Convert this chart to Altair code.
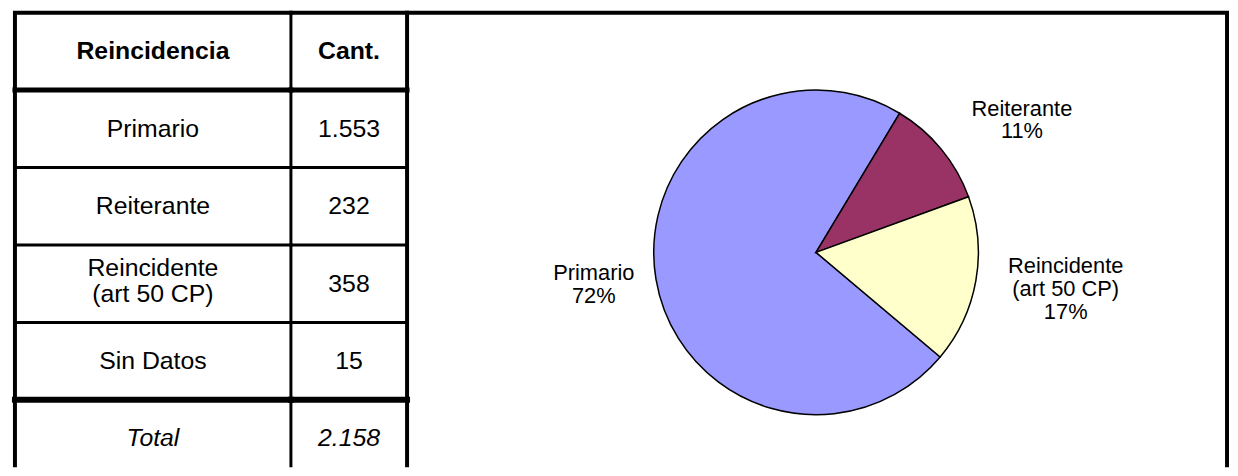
import math
import altair as alt
import pandas as pd

# ---------------- data ----------------
header = ["Reincidencia", "Cant."]
categories = ["Primario", "Reiterante", "Reincidente\n(art 50 CP)", "Sin Datos"]
counts = [1553, 232, 358, 15]
total_label = "Total"

pie_categories = ["Primario", "Reiterante", "Reincidente\n(art 50 CP)"]
pie_counts = [1553, 232, 358]
pie_colors = ["#9999FF", "#993366", "#FFFFCC"]

# ---------------- layout constants ----------------
FONT = "Liberation Sans"
TABLE_FS = 25
TABLE_LH = 26
LABEL_FS = 22
LABEL_LH = 23
COL1_W, COL2_W, PIE_W, H = 278, 117, 826, 458
ROW_H = 78
PIE_CX, PIE_CY, PIE_R = 412, 241.5, 163.5
START = math.radians(130.1)
LABEL_R = 230
LABEL_OFFSETS = {
    "Primario": (3, -5),
    "Reiterante": (30, 13),
    "Reincidente\n(art 50 CP)": (25, -3),
}


def es(n):
    return f"{n:,}".replace(",", ".")


row_keys = [header[0]] + categories + [total_label]
table = pd.DataFrame({
    "key": row_keys,
    "c1": row_keys,
    "c2": [header[1]] + [es(c) for c in counts] + [es(sum(counts))],
    "kind": ["head"] + ["body"] * len(categories) + ["total"],
})

yscale = alt.Scale(type="band", domain=row_keys, range=[0, ROW_H * len(row_keys)],
                   paddingInner=0, paddingOuter=0)

rule_w = (alt.when(alt.datum.key == row_keys[0]).then(alt.value(4))
          .when(alt.datum.key == row_keys[1]).then(alt.value(5))
          .when(alt.datum.key == total_label).then(alt.value(6))
          .otherwise(alt.value(3)))

one = pd.DataFrame({"k": [0]})


def table_col(field, width, left_w):
    base = alt.Chart(table)
    hrules = base.mark_rule(color="black", strokeCap="square").encode(
        y=alt.Y("key:N", scale=yscale, bandPosition=0, axis=None),
        strokeWidth=rule_w,
    )
    vrule = alt.Chart(one).mark_rule(color="black", strokeWidth=left_w).encode(
        x=alt.value(0), y=alt.value(0), y2=alt.value(H)
    )
    layers = [hrules, vrule]
    multi = f"indexof(datum.{field}, '\\n') >= 0"
    specs = [
        (f"datum.kind == 'head'", "bold", "normal", 0),
        (f"datum.kind == 'body' && !({multi})", "normal", "normal", 0),
        (f"datum.kind == 'body' && ({multi})", "normal", "normal", -TABLE_LH / 2 - 3),
        (f"datum.kind == 'total'", "normal", "italic", 0),
    ]
    for test, weight, style, dy in specs:
        layers.append(
            base.transform_filter(test).mark_text(
                font=FONT, fontSize=TABLE_FS, fontWeight=weight, fontStyle=style,
                lineBreak="\n", lineHeight=TABLE_LH, color="black", align="center",
                baseline="middle", dy=dy,
            ).encode(
                y=alt.Y("key:N", scale=yscale, axis=None),
                text=alt.Text(f"{field}:N"),
            )
        )
    return alt.layer(*layers).properties(width=width, height=H)


col1 = table_col("c1", COL1_W, 4)
col2 = table_col("c2", COL2_W, 3)

# ---------------- pie ----------------
pie_df = pd.DataFrame({"cat": pie_categories, "n": pie_counts,
                       "order": list(range(len(pie_categories)))})
theta_scale = alt.Scale(domain=[0, sum(pie_counts)], range=[START, START + 2 * math.pi])

pie_base = (alt.Chart(pie_df)
            .transform_stack(stack="n", groupby=[], as_=["s0", "s1"],
                             sort=[alt.SortField("order", order="ascending")])
            .transform_joinaggregate(tot="sum(n)")
            .transform_calculate(
                mid="(datum.s0 + datum.s1) / 2",
                label="datum.cat + '\\n' + format(datum.n / datum.tot, '.0%')",
            ))

arcs = pie_base.mark_arc(outerRadius=PIE_R, stroke="black", strokeWidth=1.5).encode(
    theta=alt.Theta("s0:Q", scale=theta_scale, stack=False),
    theta2="s1:Q",
    color=alt.Color("cat:N", scale=alt.Scale(domain=pie_categories, range=pie_colors),
                    legend=None),
    x=alt.value(PIE_CX), y=alt.value(PIE_CY),
)

label_layers = []
for i, cat in enumerate(pie_categories):
    dx, dy = LABEL_OFFSETS[cat]
    nlines = cat.count("\n") + 2
    dy = dy - (nlines - 1) * LABEL_LH / 2
    label_layers.append(
        pie_base.transform_filter(alt.datum.order == i)
        .mark_text(font=FONT, fontSize=LABEL_FS, lineBreak="\n", lineHeight=LABEL_LH,
                   color="black", align="center", baseline="middle", dx=dx, dy=dy)
        .encode(
            theta=alt.Theta("mid:Q", scale=theta_scale, stack=False),
            radius=alt.value(LABEL_R),
            x=alt.value(PIE_CX), y=alt.value(PIE_CY),
            text="label:N",
        )
    )

top_rule = alt.Chart(one).mark_rule(color="black", strokeWidth=4, strokeCap="square").encode(
    x=alt.value(0), x2=alt.value(PIE_W), y=alt.value(0))
left_rule = alt.Chart(one).mark_rule(color="black", strokeWidth=4).encode(
    x=alt.value(0), y=alt.value(0), y2=alt.value(H))
right_rule = alt.Chart(one).mark_rule(color="black", strokeWidth=4).encode(
    x=alt.value(PIE_W), y=alt.value(0), y2=alt.value(H))

pie = alt.layer(arcs, *label_layers, top_rule, left_rule, right_rule).properties(
    width=PIE_W, height=H)

chart = (alt.hconcat(col1, col2, pie, spacing=0, bounds="flush")
         .configure_view(strokeWidth=0)
         .properties(padding={"left": 2, "top": 0, "right": 0, "bottom": 0},
                     background="white"))

chart.save("out.html", embed_options={"renderer": "svg", "actions": False})
